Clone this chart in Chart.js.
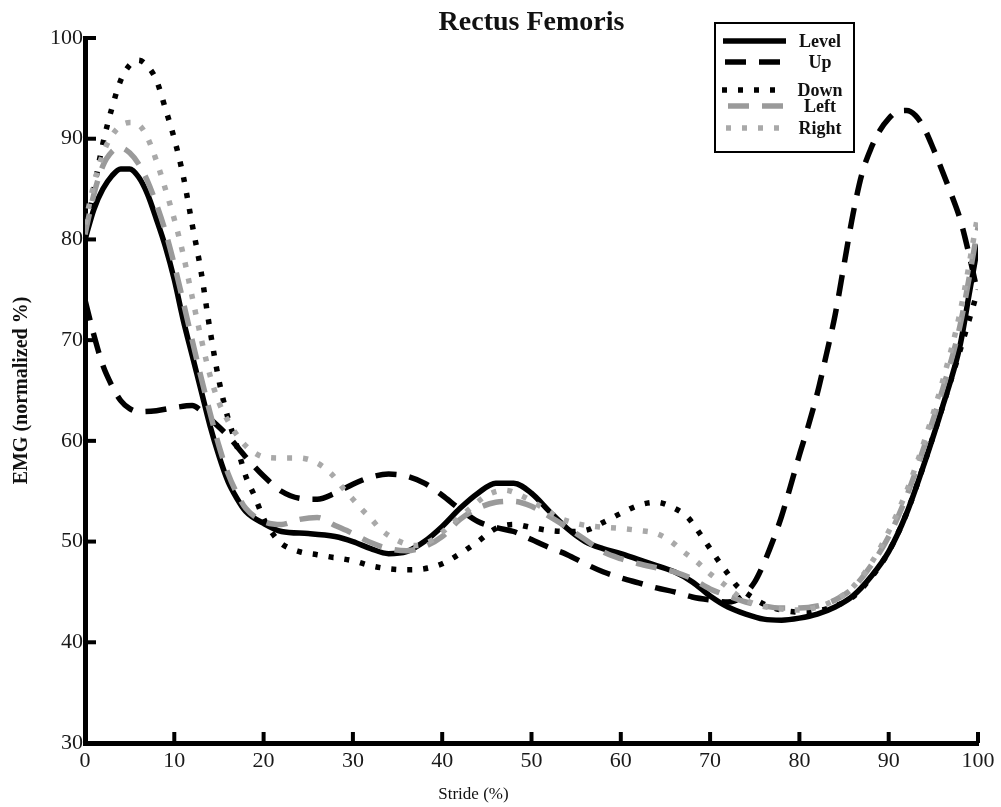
<!DOCTYPE html>
<html>
<head>
<meta charset="utf-8">
<script src="https://cdn.jsdelivr.net/npm/chart.js@4.4.0/dist/chart.umd.min.js"></script>
<style>
  html, body { margin: 0; padding: 0; background: #fff; }
  #wrap { width: 1001px; height: 807px; }
</style>
</head>
<body>
<div id="wrap"><canvas id="chart" width="1001" height="807"></canvas></div>
<script>
// values (stride %, EMG normalized %)
const levelX = [0, 1, 2, 3, 4, 5, 6, 7, 8, 9, 10, 11, 12, 13, 14, 15, 16, 17, 18, 20, 22, 25, 28, 30, 32, 34, 36, 38, 40, 42, 44, 46, 48, 50, 52, 54, 56, 58, 60, 63, 66, 68, 70, 72, 74, 76, 78, 80, 82, 84, 86, 88, 90, 92, 94, 96, 98, 99, 100];
const levelY = [80, 83, 85, 86.3, 87, 87, 86.2, 84.5, 82, 79.3, 76, 72, 68.5, 65, 61.5, 58.5, 56, 54.3, 53, 51.8, 51, 50.8, 50.5, 50, 49.3, 48.8, 49, 50, 51.5, 53.3, 54.8, 55.8, 55.8, 54.8, 53, 51.3, 50, 49.3, 48.8, 47.9, 47, 46, 44.6, 43.5, 42.8, 42.3, 42.2, 42.4, 42.8, 43.5, 44.6, 46.5, 49, 52.8, 57.8, 63.3, 69.5, 74.5, 79.5];

const upX = [0, 1, 2, 3, 4, 5, 6, 8, 10, 12, 13, 14, 16, 18, 20, 22, 24, 26, 28, 30, 32, 34, 36, 38, 40, 42, 44, 46, 48, 50, 52, 54, 56, 58, 60, 62, 64, 66, 68, 70, 72, 73.5, 75, 76, 77, 78, 79, 80, 81, 82, 83, 84, 85, 86, 87, 88, 89, 90, 91, 92, 93, 94, 95, 96, 97, 98, 99, 100];
const upY = [74, 70.5, 67.5, 65.5, 64, 63.2, 62.9, 63, 63.3, 63.5, 63, 62.2, 60.5, 58.4, 56.5, 55, 54.3, 54.2, 54.8, 55.7, 56.4, 56.7, 56.5, 55.8, 54.6, 53.2, 52, 51.4, 51, 50.2, 49.4, 48.7, 47.8, 47, 46.4, 45.9, 45.4, 45, 44.5, 44.2, 44, 44.5, 46, 47.8, 50, 52.5, 55.5, 58.6, 61.5, 64.7, 68.5, 72.5, 77.5, 82.5, 86.5, 89, 90.8, 92, 92.7, 92.8, 92.3, 91, 89, 86.8, 84.5, 82, 78.5, 74.5];

const downX = [0, 1, 2, 3, 4, 5, 6, 7, 8, 9, 10, 11, 12, 13, 14, 15, 16, 17, 18, 19, 20, 21, 22, 24, 26, 28, 30, 32, 34, 36, 38, 40, 42, 44, 46, 48, 50, 52, 54, 56, 58, 60, 62, 64, 66, 67.5, 69, 70, 71, 72, 73, 74, 76, 78, 80, 82, 84, 86, 88, 90, 92, 94, 96, 98, 100];
const downY = [80, 85, 89.5, 93, 95.8, 97.3, 97.8, 97.2, 95.8, 93, 90, 86.3, 81.5, 76.8, 71, 66, 62.3, 59.5, 56.5, 54.5, 52.3, 50.8, 49.8, 49, 48.7, 48.4, 48.1, 47.6, 47.3, 47.2, 47.3, 47.8, 48.8, 50, 51.3, 51.7, 51.4, 51.1, 51, 51.1, 51.9, 52.8, 53.6, 53.9, 53.3, 52.4, 50.6, 49.3, 48, 46.8, 45.6, 44.9, 43.8, 43.2, 43, 43.1, 43.6, 44.5, 46.4, 49, 52.8, 57.8, 63.3, 69, 75];

const leftX = [0, 1, 2, 3, 4, 5, 6, 7, 8, 9, 10, 11, 12, 13, 14, 15, 16, 17, 18, 20, 22, 24, 26, 28, 30, 32, 34, 36, 38, 40, 42, 44, 46, 48, 50, 52, 54, 56, 58, 60, 62, 64, 66, 68, 70, 72, 74, 76, 78, 80, 82, 84, 86, 88, 90, 92, 94, 96, 98, 100];
const leftY = [80.5, 84.5, 87.3, 88.7, 89.1, 88.6, 87.5, 85.8, 83.5, 80.8, 77.5, 73.8, 70, 66.3, 62.8, 59.5, 56.8, 54.8, 53.3, 52, 51.7, 52.2, 52.4, 51.6, 50.8, 49.9, 49.3, 49.1, 49.5, 50.5, 52.2, 53.3, 53.9, 54, 53.5, 52.5, 51.4, 50.2, 49, 48.3, 47.8, 47.4, 47, 46.3, 45.3, 44.6, 44, 43.6, 43.4, 43.4, 43.6, 44.2, 45.4, 47.6, 50.5, 54.5, 59.5, 65, 71.5, 81.2];

const rightX = [0, 1, 2, 3, 4, 5, 6, 7, 8, 9, 10, 11, 12, 13, 14, 15, 16, 17, 18, 19, 20, 22, 24, 26, 27.5, 29, 30, 31, 32, 33, 35, 37, 39, 41, 43, 45, 47, 49, 51, 53, 55, 57, 60, 62, 64, 65.5, 67, 68.5, 70, 71.5, 73, 75, 77, 80, 82, 84, 86, 88, 90, 92, 94, 96, 98, 100];
const rightY = [81.5, 85.5, 88.5, 90.3, 91.3, 91.6, 91.4, 90.1, 87.8, 85, 82, 78.5, 74.3, 70.2, 66.5, 63.8, 62, 60.6, 59.5, 58.8, 58.4, 58.3, 58.3, 57.8, 56.8, 55.2, 54.2, 53.2, 52.3, 51.3, 50.1, 49.6, 50.2, 51.7, 53.2, 54.6, 55.1, 54.5, 53.5, 52.4, 51.8, 51.5, 51.3, 51.1, 50.8, 50.1, 49, 48, 46.8, 45.8, 44.7, 43.8, 43.4, 43.2, 43.5, 44.2, 45.5, 47.8, 51, 55, 60, 65.8, 72.8, 82.5];

const seriesNames = ['Level', 'Up', 'Down', 'Left', 'Right'];
const xTicks = [0, 10, 20, 30, 40, 50, 60, 70, 80, 90, 100];
const yTicks = [30, 40, 50, 60, 70, 80, 90, 100];

const serif = '"Liberation Serif", "Times New Roman", serif';

function pts(xs, ys) {
    return xs.map((v, i) => ({ x: v, y: ys[i] }));
}

const styles = [
    { color: '#000000', dash: [] },
    { color: '#000000', dash: [21, 13] },
    { color: '#000000', dash: [5, 11] },
    { color: '#9a9a9a', dash: [21, 13] },
    { color: '#a9a9a9', dash: [5, 11] },
];
const allData = [pts(levelX, levelY), pts(upX, upY), pts(downX, downY), pts(leftX, leftY), pts(rightX, rightY)];

// draw order: light ones first so the black curves sit on top
const order = [4, 3, 2, 1, 0];

const datasets = seriesNames.map((name, i) => ({
    label: name,
    data: allData[i],
    borderColor: styles[i].color,
    borderDash: styles[i].dash,
    borderWidth: 5.5,
    pointRadius: 0,
    fill: false,
    cubicInterpolationMode: 'monotone',
    order: order[i],
}));

// inward ticks, x-axis title and the boxed legend
const axisDecor = {
    id: 'axisDecor',
    afterDraw(chart) {
        const { ctx, chartArea, scales } = chart;
        const x = scales.x, y = scales.y;
        ctx.save();
        ctx.strokeStyle = '#000';
        ctx.lineWidth = 4;
        x.ticks.forEach(t => {
            const px = x.getPixelForValue(t.value);
            ctx.beginPath();
            ctx.moveTo(px, chartArea.bottom);
            ctx.lineTo(px, chartArea.bottom - 11);
            ctx.stroke();
        });
        y.ticks.forEach(t => {
            const py = y.getPixelForValue(t.value);
            ctx.beginPath();
            ctx.moveTo(chartArea.left, py);
            ctx.lineTo(chartArea.left + 11, py);
            ctx.stroke();
        });

        // x axis title (sits left of centre in the original)
        ctx.fillStyle = '#111';
        ctx.font = '17px ' + serif;
        ctx.textAlign = 'center';
        ctx.textBaseline = 'middle';
        ctx.fillText('Stride (%)', x.getPixelForValue(43.5), 795);

        // legend box
        const bx = 715, by = 23, bw = 139, bh = 129;
        ctx.lineWidth = 2;
        ctx.setLineDash([]);
        ctx.strokeRect(bx, by, bw, bh);
        const rowY = [41, 62, 90, 106, 128];
        const sampleStart = [723, 725, 722, 728, 726];
        ctx.font = 'bold 18px ' + serif;
        seriesNames.forEach((name, i) => {
            ctx.strokeStyle = styles[i].color;
            ctx.lineWidth = 5.5;
            ctx.setLineDash(styles[i].dash);
            ctx.beginPath();
            ctx.moveTo(sampleStart[i], rowY[i]);
            ctx.lineTo(786, rowY[i]);
            ctx.stroke();
            ctx.fillStyle = '#111';
            ctx.fillText(name, 820, rowY[i] + 1);
        });
        ctx.restore();
    }
};

new Chart(document.getElementById('chart'), {
    type: 'line',
    data: { datasets: datasets },
    options: {
        responsive: false,
        animation: false,
        layout: { padding: { left: 0, right: 23, top: 0, bottom: 0 } },
        plugins: {
            legend: { display: false },
            tooltip: { enabled: false },
            title: {
                display: true,
                text: 'Rectus Femoris',
                fullSize: false,
                color: '#111',
                font: { family: serif, size: 28, weight: 'bold', lineHeight: 1.0 },
                padding: { top: 9, bottom: 1 },
            },
        },
        scales: {
            x: {
                type: 'linear',
                min: 0,
                max: 100,
                afterBuildTicks: (s) => { s.ticks = xTicks.map(v => ({ value: v })); },
                afterFit: (s) => { s.height = 64; },
                grid: { display: false, drawTicks: false },
                border: { display: true, color: '#000', width: 5 },
                ticks: {
                    color: '#1a1a1a',
                    padding: 5,
                    font: { family: serif, size: 22 },
                    maxRotation: 0,
                },
            },
            y: {
                type: 'linear',
                min: 30,
                max: 100,
                afterBuildTicks: (s) => { s.ticks = yTicks.map(v => ({ value: v })); },
                afterFit: (s) => { s.width = 85; },
                grid: { display: false, drawTicks: false },
                border: { display: true, color: '#000', width: 5 },
                ticks: {
                    color: '#1a1a1a',
                    padding: 2,
                    font: { family: serif, size: 22 },
                },
                title: {
                    display: true,
                    text: 'EMG (normalized %)',
                    color: '#111',
                    font: { family: serif, size: 20, weight: 'bold' },
                    padding: { top: 10, bottom: 0 },
                },
            },
        },
    },
    plugins: [axisDecor],
});
</script>
</body>
</html>
